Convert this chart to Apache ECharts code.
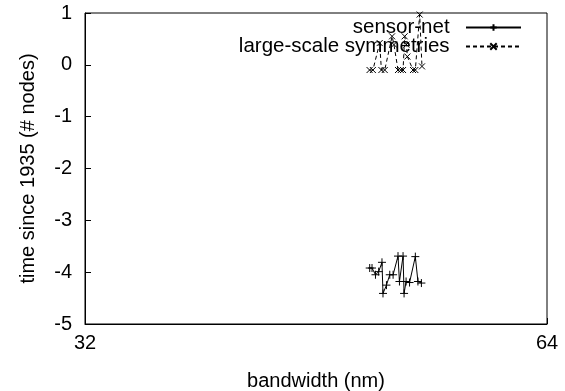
<!DOCTYPE html>
<html>
<head>
<meta charset="utf-8">
<script src="https://cdn.jsdelivr.net/npm/echarts@6/dist/echarts.min.js"></script>
<style>
  html, body { margin: 0; padding: 0; background: #fff; }
  #chart { width: 565px; height: 391px; }
</style>
</head>
<body>
<div id="chart"></div>
<script>
// Axis ticks
const xTicks = [32, 64];
const yTicks = [-5, -4, -3, -2, -1, 0, 1];

// sensor-net series
const sensorX = [51.72, 51.88, 52.12, 52.34, 52.57, 52.64, 52.88, 53.11, 53.34, 53.68, 53.78, 54.03, 54.10, 54.24, 54.48, 54.88, 55.06, 55.30];
const sensorY = [-3.92, -3.92, -4.05, -3.99, -3.81, -4.41, -4.25, -4.05, -4.05, -3.69, -4.18, -3.69, -4.41, -4.18, -4.20, -3.70, -4.18, -4.21];

// large-scale symmetries series
const symX = [51.71, 51.94, 52.41, 52.53, 52.76, 53.27, 53.40, 53.68, 53.87, 54.03, 54.14, 54.26, 54.33, 54.72, 54.88, 55.18, 55.34];
const symY = [-0.10, -0.10, 0.42, -0.10, -0.10, 0.55, 0.39, -0.10, -0.10, -0.10, 0.55, 0.39, 0.16, -0.10, -0.10, 0.97, -0.03];

const FONT = 'Liberation Sans, Arial, sans-serif';
const FS = 20;
const plusPath = 'path://M0,5L10,5M5,0L5,10';
const crossPath = 'path://M0,0L10,10M10,0L0,10';

const zip = (xs, ys) => xs.map((x, i) => [x, ys[i]]);
const legendText = { fontFamily: FONT, fontSize: 20.5, color: '#000' };
// a little breathing room between the key text and its sample line
const keyLabel = name => name + '  ';

const chart = echarts.init(document.getElementById('chart'), null, { renderer: 'canvas' });
chart.setOption({
  animation: false,
  backgroundColor: '#fff',
  textStyle: { fontFamily: FONT },
  grid: {
    left: 85, right: 18, top: 13, bottom: 67,
    outerBoundsMode: 'none', containLabel: false,
    show: true, borderColor: '#000', borderWidth: 1, backgroundColor: 'transparent'
  },
  legend: [
    {
      data: ['sensor-net'],
      right: 43, top: 17, orient: 'vertical', align: 'right', padding: 0,
      itemWidth: 55, itemHeight: 8, formatter: keyLabel,
      textStyle: legendText
    },
    {
      data: ['large-scale symmetries'],
      right: 43, top: 36, orient: 'vertical', align: 'right', padding: 0,
      itemWidth: 55, itemHeight: 8, formatter: keyLabel,
      textStyle: legendText
    }
  ],
  xAxis: {
    type: 'value',
    min: xTicks[0], max: xTicks[xTicks.length - 1], interval: xTicks[1] - xTicks[0],
    name: 'bandwidth (nm)', nameLocation: 'middle', nameGap: 47,
    nameTextStyle: { fontFamily: FONT, fontSize: FS, color: '#000' },
    axisLine: { onZero: false, lineStyle: { color: '#000' } },
    axisTick: { inside: true, length: 6, lineStyle: { color: '#000' } },
    axisLabel: { fontFamily: FONT, fontSize: FS, color: '#000', margin: 9 },
    splitLine: { show: false }
  },
  yAxis: {
    type: 'value',
    min: yTicks[0], max: yTicks[yTicks.length - 1], interval: 1,
    name: 'time since 1935 (# nodes)', nameLocation: 'middle', nameGap: 47,
    nameTextStyle: { fontFamily: FONT, fontSize: FS, color: '#000' },
    axisLine: { onZero: false, lineStyle: { color: '#000' } },
    axisTick: { inside: true, length: 6, lineStyle: { color: '#000' } },
    axisLabel: { fontFamily: FONT, fontSize: FS, color: '#000', margin: 13 },
    splitLine: { show: false }
  },
  series: [
    {
      name: 'sensor-net',
      type: 'line',
      data: zip(sensorX, sensorY),
      symbol: plusPath, symbolSize: 8, showAllSymbol: true,
      lineStyle: { color: '#000', width: 1 },
      itemStyle: { color: '#000', borderColor: '#000', borderWidth: 1 }
    },
    {
      name: 'large-scale symmetries',
      type: 'line',
      data: zip(symX, symY),
      symbol: crossPath, symbolSize: 6, showAllSymbol: true,
      lineStyle: { color: '#000', width: 1, type: [4, 3] },
      itemStyle: { color: '#000', borderColor: '#000', borderWidth: 1 }
    }
  ]
});
</script>
</body>
</html>
